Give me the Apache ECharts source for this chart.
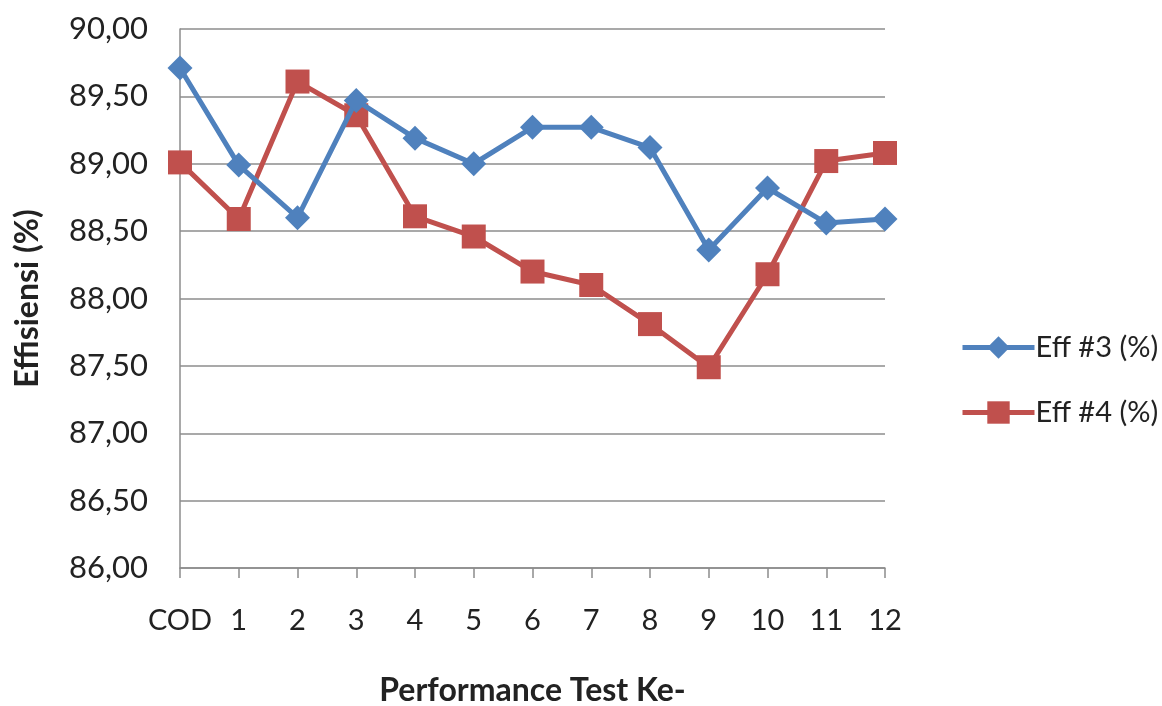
<!DOCTYPE html>
<html>
<head>
<meta charset="utf-8">
<script src="https://cdn.jsdelivr.net/npm/echarts@6/dist/echarts.min.js"></script>
<style>
html,body{margin:0;padding:0;background:#fff;}
#c{width:1162px;height:706px;}
</style>
</head>
<body>
<div id="c"></div>
<script>
const categories = ['COD','1','2','3','4','5','6','7','8','9','10','11','12'];
const eff3 = [89.71, 88.99, 88.60, 89.47, 89.19, 89.00, 89.27, 89.27, 89.12, 88.36, 88.82, 88.56, 88.59];
const eff4 = [89.01, 88.59, 89.61, 89.36, 88.61, 88.46, 88.20, 88.10, 87.81, 87.49, 88.18, 89.02, 89.08];
const seriesNames = ['Eff #3 (%)', 'Eff #4 (%)'];
const yTitle = 'Effisiensi (%)';
const xTitle = 'Performance Test Ke-';

const FONT = 'Lato';
const chart = echarts.init(document.getElementById('c'), null, {renderer:'canvas'});
chart.setOption({
  backgroundColor:'#fff',
  animation:false,
  textStyle:{fontFamily:FONT},
  grid:{left:180, right:277, top:29, bottom:138, containLabel:false, outerBoundsMode:'none'},
  legend:{
    orient:'vertical',
    left:955, top:328,
    itemWidth:72, itemHeight:28, itemGap:36,
    lineStyle:{width:5},
    textStyle:{fontFamily:FONT, fontSize:29, color:'#222', padding:[0,0,0,-4]},
    data:seriesNames
  },
  xAxis:{
    type:'category',
    data:categories,
    boundaryGap:false,
    name:xTitle,
    nameLocation:'middle',
    nameGap:107,
    nameTextStyle:{fontFamily:FONT, fontSize:32, fontWeight:'bold', color:'#222'},
    axisLine:{lineStyle:{color:'#8c8c8c', width:1.5}},
    axisTick:{show:true, alignWithLabel:true, interval:0, length:10, lineStyle:{color:'#8c8c8c', width:1.5}},
    axisLabel:{interval:0, margin:38, fontFamily:FONT, fontSize:29, color:'#222'},
    splitLine:{show:false}
  },
  yAxis:{
    type:'value',
    min:86, max:90, interval:0.5,
    name:yTitle,
    nameLocation:'middle',
    nameGap:136,
    nameRotate:90,
    nameTextStyle:{fontFamily:FONT, fontSize:32, fontWeight:'bold', color:'#222'},
    axisLine:{show:true, lineStyle:{color:'#8c8c8c', width:1.5}},
    axisTick:{show:false},
    axisLabel:{margin:32, fontFamily:FONT, fontSize:31, color:'#222',
      formatter:v=>v.toFixed(2).replace('.',',')},
    splitLine:{show:true, lineStyle:{color:'#8c8c8c', width:1.5}}
  },
  series:[
    {name:seriesNames[0], type:'line', data:eff3, symbol:'diamond', symbolSize:25,
     lineStyle:{color:'#4F81BD', width:5}, itemStyle:{color:'#4F81BD'}, z:3},
    {name:seriesNames[1], type:'line', data:eff4, symbol:'rect', symbolSize:24,
     lineStyle:{color:'#C0504D', width:5}, itemStyle:{color:'#C0504D'}, z:2}
  ]
});
</script>
</body>
</html>
